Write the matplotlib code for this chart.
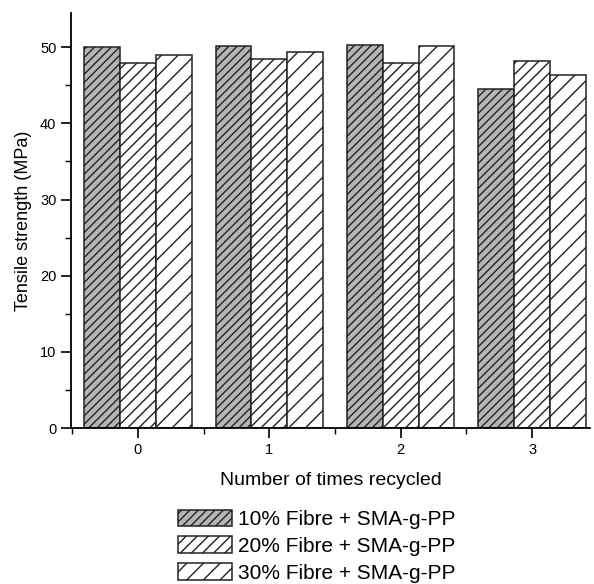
import numpy as np
import matplotlib
matplotlib.use("Agg")
import matplotlib.pyplot as plt
from matplotlib.ticker import MultipleLocator, FixedLocator

plt.rcParams['font.family'] = ['Liberation Sans', 'DejaVu Sans']
plt.rcParams['hatch.linewidth'] = 1.0
plt.rcParams['hatch.color'] = '#2a2a2a'

cycles = ["0", "1", "2", "3"]
series_labels = ["10% Fibre + SMA-g-PP", "20% Fibre + SMA-g-PP", "30% Fibre + SMA-g-PP"]
fibre_10 = [50.0, 50.1, 50.3, 44.5]
fibre_20 = [47.9, 48.4, 47.9, 48.2]
fibre_30 = [49.0, 49.3, 50.1, 46.3]

fig = plt.figure(figsize=(5.94, 5.84), dpi=100)
ax = fig.add_axes([0.1195, 0.267, 0.8735, 0.711])

x = np.arange(len(cycles))
w = 0.272
styles = [
    dict(facecolor="#b4b4b4", hatch="////"),
    dict(facecolor="white", hatch="///"),
    dict(facecolor="white", hatch="//"),
]
handles = []
for i, (vals, st) in enumerate(zip([fibre_10, fibre_20, fibre_30], styles)):
    b = ax.bar(x + (i - 1) * w, vals, width=w, edgecolor="#222222",
               linewidth=1.1, label=series_labels[i], **st)
    handles.append(b)

ax.set_xlim(-0.51, 3.44)
ax.set_ylim(0, 54.5)
ax.set_xticks(x)
ax.set_xticklabels(cycles)
ax.xaxis.set_minor_locator(FixedLocator([-0.5, 0.5, 1.5, 2.5]))
ax.yaxis.set_major_locator(MultipleLocator(10))
ax.yaxis.set_minor_locator(MultipleLocator(5))
for s in ["top", "right"]:
    ax.spines[s].set_visible(False)
for s in ["left", "bottom"]:
    ax.spines[s].set_linewidth(1.3)
ax.tick_params(which="major", direction="out", length=7, width=1.2, labelsize=10.5)
ax.tick_params(which="minor", direction="out", length=4, width=1.0)

ax.set_ylabel("Tensile strength (MPa)", fontsize=13, labelpad=6)
ax.set_xlabel("Number of times recycled", fontsize=14, labelpad=11)

fig.legend(handles=handles, labels=series_labels, loc="upper left",
           bbox_to_anchor=(0.2997, 0.1275), frameon=False, fontsize=15,
           handlelength=2.6, handleheight=0.87, handletextpad=0.3,
           labelspacing=0.35, borderpad=0.0, borderaxespad=0.0)

fig.savefig("out.png", dpi=100)
